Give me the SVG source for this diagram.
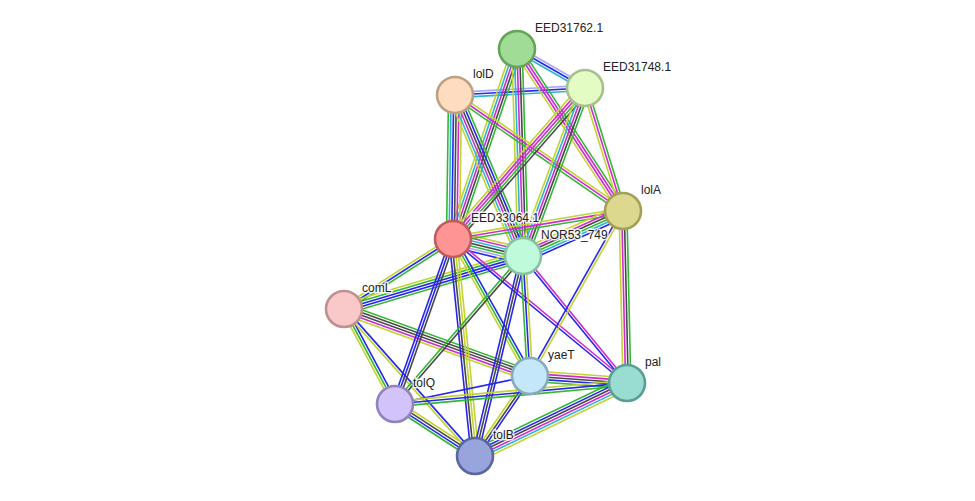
<svg xmlns="http://www.w3.org/2000/svg" width="975" height="501" viewBox="0 0 975 501">
<style>
line{stroke-width:1.6;fill:none}
.g{stroke:#33b833}.b{stroke:#2626ee}.m{stroke:#d22ad2}.c{stroke:#2ab4d6}.k{stroke:#484848}.y{stroke:#c2d42e}.v{stroke:#a8a8fa}
circle{stroke-width:2.6}
text{font-family:"Liberation Sans",Arial,sans-serif;font-size:12px;fill:#222;stroke:#fff;stroke-width:3;stroke-opacity:.85;paint-order:stroke;stroke-linejoin:round}
</style>
<rect width="975" height="501" fill="#fff"/>
<g id="edges">
<g transform="translate(517,49) rotate(29.8)"><line x2="78.4" y1="-2.6" y2="-2.6" class="v"/><line x2="78.4" class="b"/><line x2="78.4" y1="2.6" y2="2.6" class="c"/></g>
<g transform="translate(455,95) rotate(-3.1)"><line x2="130.2" y1="-2.6" y2="-2.6" class="v"/><line x2="130.2" class="b"/><line x2="130.2" y1="2.6" y2="2.6" class="c"/></g>
<g transform="translate(517,49) rotate(108.6)"><line x2="200.5" y1="-5.2" y2="-5.2" class="g"/><line x2="200.5" y1="-2.6" y2="-2.6" class="k"/><line x2="200.5" class="m"/><line x2="200.5" y1="2.6" y2="2.6" class="c"/><line x2="200.5" y1="5.2" y2="5.2" class="y"/></g>
<g transform="translate(517,49) rotate(88.3)"><line x2="207.1" y1="-5.2" y2="-5.2" class="g"/><line x2="207.1" y1="-2.6" y2="-2.6" class="k"/><line x2="207.1" class="m"/><line x2="207.1" y1="2.6" y2="2.6" class="c"/><line x2="207.1" y1="5.2" y2="5.2" class="y"/></g>
<g transform="translate(517,49) rotate(56.8)"><line x2="193.6" y1="-3.9" y2="-3.9" class="g"/><line x2="193.6" y1="-1.3" y2="-1.3" class="m"/><line x2="193.6" y1="1.3" y2="1.3" class="m"/><line x2="193.6" y1="3.9" y2="3.9" class="y"/></g>
<g transform="translate(455,95) rotate(34.6)"><line x2="204.2" y1="-2.6" y2="-2.6" class="y"/><line x2="204.2" class="m"/><line x2="204.2" y1="2.6" y2="2.6" class="g"/></g>
<g transform="translate(455,95) rotate(90.8)"><line x2="144" y1="-6.5" y2="-6.5" class="y"/><line x2="144" y1="-3.9" y2="-3.9" class="m"/><line x2="144" y1="-1.3" y2="-1.3" class="k"/><line x2="144" y1="1.3" y2="1.3" class="b"/><line x2="144" y1="3.9" y2="3.9" class="c"/><line x2="144" y1="6.5" y2="6.5" class="g"/></g>
<g transform="translate(455,95) rotate(67.1)"><line x2="174.8" y1="-6.5" y2="-6.5" class="g"/><line x2="174.8" y1="-3.9" y2="-3.9" class="b"/><line x2="174.8" y1="-1.3" y2="-1.3" class="k"/><line x2="174.8" y1="1.3" y2="1.3" class="m"/><line x2="174.8" y1="3.9" y2="3.9" class="c"/><line x2="174.8" y1="6.5" y2="6.5" class="y"/></g>
<g transform="translate(585,88) rotate(131.2)"><line x2="200.6" y1="-5.2" y2="-5.2" class="k"/><line x2="200.6" y1="-2.6" y2="-2.6" class="g"/><line x2="200.6" class="m"/><line x2="200.6" y1="2.6" y2="2.6" class="m"/><line x2="200.6" y1="5.2" y2="5.2" class="y"/></g>
<g transform="translate(585,88) rotate(110.3)"><line x2="179.1" y1="-5.2" y2="-5.2" class="g"/><line x2="179.1" y1="-2.6" y2="-2.6" class="k"/><line x2="179.1" class="m"/><line x2="179.1" y1="2.6" y2="2.6" class="c"/><line x2="179.1" y1="5.2" y2="5.2" class="y"/></g>
<g transform="translate(585,88) rotate(72.8)"><line x2="128.7" y1="-2.6" y2="-2.6" class="g"/><line x2="128.7" class="m"/><line x2="128.7" y1="2.6" y2="2.6" class="y"/></g>
<g transform="translate(453,239) rotate(13.7)"><line x2="72" y1="-7.8" y2="-7.8" class="y"/><line x2="72" y1="-5.2" y2="-5.2" class="m"/><line x2="72" y1="-2.6" y2="-2.6" class="c"/><line x2="72" class="k"/><line x2="72" y1="2.6" y2="2.6" class="g"/><line x2="72" y1="5.2" y2="5.2" class="v"/><line x2="72" y1="7.8" y2="7.8" class="b"/></g>
<g transform="translate(453,239) rotate(-9.4)"><line x2="172.3" y1="-2.6" y2="-2.6" class="y"/><line x2="172.3" class="m"/><line x2="172.3" y1="2.6" y2="2.6" class="g"/></g>
<g transform="translate(523,256) rotate(-24.2)"><line x2="109.7" y1="-6.5" y2="-6.5" class="y"/><line x2="109.7" y1="-3.9" y2="-3.9" class="m"/><line x2="109.7" y1="-1.3" y2="-1.3" class="k"/><line x2="109.7" y1="1.3" y2="1.3" class="g"/><line x2="109.7" y1="3.9" y2="3.9" class="c"/><line x2="109.7" y1="6.5" y2="6.5" class="b"/></g>
<g transform="translate(453,239) rotate(147.3)"><line x2="129.5" y1="-2.6" y2="-2.6" class="g"/><line x2="129.5" class="b"/><line x2="129.5" y1="2.6" y2="2.6" class="y"/></g>
<g transform="translate(523,256) rotate(163.5)"><line x2="186.7" y1="-5.2" y2="-5.2" class="g"/><line x2="186.7" y1="-2.6" y2="-2.6" class="b"/><line x2="186.7" class="b"/><line x2="186.7" y1="2.6" y2="2.6" class="g"/><line x2="186.7" y1="5.2" y2="5.2" class="y"/></g>
<g transform="translate(344,309) rotate(19.8)"><line x2="197.7" y1="-5.2" y2="-5.2" class="g"/><line x2="197.7" y1="-2.6" y2="-2.6" class="k"/><line x2="197.7" class="k"/><line x2="197.7" y1="2.6" y2="2.6" class="m"/><line x2="197.7" y1="5.2" y2="5.2" class="y"/></g>
<g transform="translate(344,309) rotate(61.8)"><line x2="107.8" y1="-2.6" y2="-2.6" class="b"/><line x2="107.8" class="g"/><line x2="107.8" y1="2.6" y2="2.6" class="y"/></g>
<g transform="translate(344,309) rotate(48.3)"><line x2="196.9" y1="-1.3" y2="-1.3" class="b"/><line x2="196.9" y1="1.3" y2="1.3" class="y"/></g>
<g transform="translate(453,239) rotate(109.4)"><line x2="174.9" y1="-2.6" y2="-2.6" class="k"/><line x2="174.9" class="b"/><line x2="174.9" y1="2.6" y2="2.6" class="b"/></g>
<g transform="translate(453,239) rotate(84.2)"><line x2="218.1" y1="-3.9" y2="-3.9" class="y"/><line x2="218.1" y1="-1.3" y2="-1.3" class="y"/><line x2="218.1" y1="1.3" y2="1.3" class="k"/><line x2="218.1" y1="3.9" y2="3.9" class="b"/></g>
<g transform="translate(453,239) rotate(60.7)"><line x2="157.2" y1="-2.6" y2="-2.6" class="b"/><line x2="157.2" class="g"/><line x2="157.2" y1="2.6" y2="2.6" class="y"/></g>
<g transform="translate(453,239) rotate(39.6)"><line x2="225.9" y1="-1.3" y2="-1.3" class="m"/><line x2="225.9" y1="1.3" y2="1.3" class="b"/></g>
<g transform="translate(523,256) rotate(130.9)"><line x2="195.7" y1="-1.3" y2="-1.3" class="k"/><line x2="195.7" y1="1.3" y2="1.3" class="g"/></g>
<g transform="translate(523,256) rotate(103.5)"><line x2="205.7" y1="-2.6" y2="-2.6" class="b"/><line x2="205.7" class="k"/><line x2="205.7" y1="2.6" y2="2.6" class="b"/></g>
<g transform="translate(523,256) rotate(86.7)"><line x2="120.2" y1="-2.6" y2="-2.6" class="y"/><line x2="120.2" class="b"/><line x2="120.2" y1="2.6" y2="2.6" class="g"/></g>
<g transform="translate(523,256) rotate(50.7)"><line x2="164.1" y1="-1.3" y2="-1.3" class="m"/><line x2="164.1" y1="1.3" y2="1.3" class="b"/></g>
<g transform="translate(623,211) rotate(119.4)"><line x2="189.4" y1="-1.3" y2="-1.3" class="y"/><line x2="189.4" y1="1.3" y2="1.3" class="b"/></g>
<g transform="translate(623,211) rotate(88.7)"><line x2="172" y1="-3.9" y2="-3.9" class="g"/><line x2="172" y1="-1.3" y2="-1.3" class="k"/><line x2="172" y1="1.3" y2="1.3" class="m"/><line x2="172" y1="3.9" y2="3.9" class="y"/></g>
<g transform="translate(530,376) rotate(4.1)"><line x2="97.3" y1="-5.2" y2="-5.2" class="y"/><line x2="97.3" y1="-2.6" y2="-2.6" class="m"/><line x2="97.3" class="k"/><line x2="97.3" y1="2.6" y2="2.6" class="b"/><line x2="97.3" y1="5.2" y2="5.2" class="g"/></g>
<g transform="translate(530,376) rotate(124.5)"><line x2="97.1" y1="-2.6" y2="-2.6" class="b"/><line x2="97.1" class="k"/><line x2="97.1" y1="2.6" y2="2.6" class="y"/></g>
<g transform="translate(530,376) rotate(168.3)"><line x2="137.9" class="b"/></g>
<g transform="translate(395,404) rotate(-5.2)"><line x2="232.9" y1="-2.6" y2="-2.6" class="y"/><line x2="232.9" class="b"/><line x2="232.9" y1="2.6" y2="2.6" class="g"/></g>
<g transform="translate(395,404) rotate(33)"><line x2="95.4" y1="-3.9" y2="-3.9" class="y"/><line x2="95.4" y1="-1.3" y2="-1.3" class="k"/><line x2="95.4" y1="1.3" y2="1.3" class="b"/><line x2="95.4" y1="3.9" y2="3.9" class="g"/></g>
<g transform="translate(475,456) rotate(-25.7)"><line x2="168.6" y1="-6.5" y2="-6.5" class="g"/><line x2="168.6" y1="-3.9" y2="-3.9" class="b"/><line x2="168.6" y1="-1.3" y2="-1.3" class="k"/><line x2="168.6" y1="1.3" y2="1.3" class="m"/><line x2="168.6" y1="3.9" y2="3.9" class="c"/><line x2="168.6" y1="6.5" y2="6.5" class="y"/></g>
</g>
<g id="EED31762.1"><circle cx="517" cy="49" r="18" fill="#a0dc96" stroke="#66a45c"/><text x="535" y="32">EED31762.1</text></g>
<g id="EED31748.1"><circle cx="585" cy="88" r="18" fill="#e2fcc4" stroke="#a8c08c"/><text x="603" y="71">EED31748.1</text></g>
<g id="lolD"><circle cx="455" cy="95" r="18" fill="#fddcc0" stroke="#c0a084"/><text x="473" y="78">lolD</text></g>
<g id="lolA"><circle cx="623" cy="211" r="18" fill="#dcd98e" stroke="#a3a057"/><text x="641" y="194">lolA</text></g>
<g id="NOR53_749"><circle cx="523" cy="256" r="18" fill="#c0fadc" stroke="#86c2a0"/><text x="541" y="239">NOR53_749</text></g>
<g id="EED33064.1"><circle cx="453" cy="239" r="18" fill="#ff9494" stroke="#c05c5c"/><text x="471" y="222">EED33064.1</text></g>
<g id="comL"><circle cx="344" cy="309" r="18" fill="#f9c8c8" stroke="#c09090"/><text x="362" y="292">comL</text></g>
<g id="yaeT"><circle cx="530" cy="376" r="18" fill="#c4e8fa" stroke="#88aabb"/><text x="548" y="359">yaeT</text></g>
<g id="pal"><circle cx="627" cy="383" r="18" fill="#98dcd2" stroke="#5a9e94"/><text x="645" y="366">pal</text></g>
<g id="tolQ"><circle cx="395" cy="404" r="18" fill="#d2c4fa" stroke="#9482bc"/><text x="413" y="387">tolQ</text></g>
<g id="tolB"><circle cx="475" cy="456" r="18" fill="#98a4dc" stroke="#5a66a0"/><text x="493" y="439">tolB</text></g>
</svg>
